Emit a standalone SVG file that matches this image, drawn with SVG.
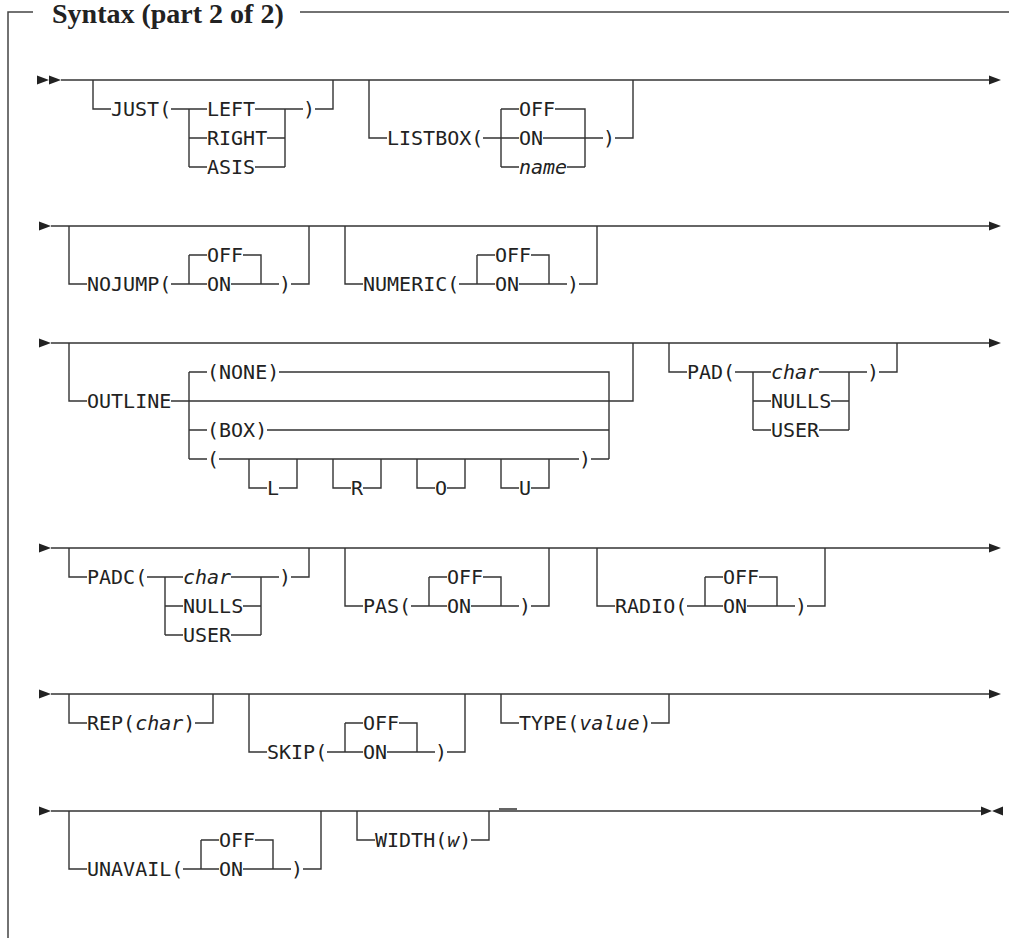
<svg xmlns="http://www.w3.org/2000/svg" width="1009" height="938" viewBox="0 0 1009 938">
<style>
.ln{fill:none;stroke:#333;stroke-width:1.4}
.fr{fill:none;stroke:#444;stroke-width:1.5}
.t{font-family:"DejaVu Sans Mono","Liberation Mono",monospace;font-size:20px;fill:#222}
.i{font-style:italic}
.ttl{font-family:"Liberation Serif","Times New Roman",serif;font-size:28px;font-weight:bold;fill:#222}
.ar{fill:#222}
</style>
<defs>
<path id="arr" d="M0,-4.5 L12,0 L0,4.5 Z"/>
</defs>
<rect width="1009" height="938" fill="#fff"/>
<g id="frame">
<path class="fr" d="M8,938 V12 H33 M300,12 H1009"/>
<text class="ttl" x="52" y="23">Syntax (part 2 of 2)</text>
</g>
<g id="connectors">
<use href="#arr" class="ar" x="37" y="80"/>
<use href="#arr" class="ar" x="49" y="80"/>
<path class="ln" d="M61,80 H990"/>
<use href="#arr" class="ar" x="989" y="80"/>
<use href="#arr" class="ar" x="39" y="226"/>
<path class="ln" d="M51,226 H990"/>
<use href="#arr" class="ar" x="989" y="226"/>
<use href="#arr" class="ar" x="39" y="343"/>
<path class="ln" d="M51,343 H990"/>
<use href="#arr" class="ar" x="989" y="343"/>
<use href="#arr" class="ar" x="39" y="548"/>
<path class="ln" d="M51,548 H990"/>
<use href="#arr" class="ar" x="989" y="548"/>
<use href="#arr" class="ar" x="39" y="694"/>
<path class="ln" d="M51,694 H990"/>
<use href="#arr" class="ar" x="989" y="694"/>
<use href="#arr" class="ar" x="39" y="811"/>
<path class="ln" d="M51,811 H982 M499,809 H517"/>
<path class="ar" d="M981,806.5 L992,811 L981,815.5 Z M1003,806.5 L992,811 L1003,815.5 Z"/>
</g>
<g id="just">
<path class="ln" d="M93,80 V109 H111 M171,109 H207 M189,109 V167 M189,138 H207 M189,167 H207 M255,109 H303 M267,138 H285 M255,167 H285 M285,109 V167 M315,109 H333 V80"/>
<text class="t" x="111" y="116">JUST(</text>
<text class="t" x="207" y="116">LEFT</text>
<text class="t" x="207" y="145">RIGHT</text>
<text class="t" x="207" y="174">ASIS</text>
<text class="t" x="303" y="116">)</text>
</g>
<g id="listbox">
<path class="ln" d="M369,80 V138 H387 M483,138 H519 M501,109 V167 M501,109 H519 M501,167 H519 M555,109 H585 V167 M543,138 H603 M567,167 H585 M615,138 H633 V80"/>
<text class="t" x="387" y="145">LISTBOX(</text>
<text class="t" x="519" y="116">OFF</text>
<text class="t" x="519" y="145">ON</text>
<text class="t i" x="519" y="174">name</text>
<text class="t" x="603" y="145">)</text>
</g>
<g id="nojump">
<path class="ln" d="M69,226 V284 H87 M171,284 H207 M189,255 V284 M189,255 H207 M243,255 H261 V284 M231,284 H279 M291,284 H309 V226"/>
<text class="t" x="87" y="291">NOJUMP(</text>
<text class="t" x="207" y="262">OFF</text>
<text class="t" x="207" y="291">ON</text>
<text class="t" x="279" y="291">)</text>
</g>
<g id="numeric">
<path class="ln" d="M345,226 V284 H363 M459,284 H495 M477,255 V284 M477,255 H495 M531,255 H549 V284 M519,284 H567 M579,284 H597 V226"/>
<text class="t" x="363" y="291">NUMERIC(</text>
<text class="t" x="495" y="262">OFF</text>
<text class="t" x="495" y="291">ON</text>
<text class="t" x="567" y="291">)</text>
</g>
<g id="outline">
<path class="ln" d="M69,343 V401 H87 M171,401 H633 V343 M189,372 V459 M189,372 H207 M189,430 H207 M189,459 H207 M279,372 H609 V459 M267,430 H609 M219,459 H579 M591,459 H609"/>
<path class="ln" d="M249,459 V488 H267 M279,488 H297 V459 M333,459 V488 H351 M363,488 H381 V459 M417,459 V488 H435 M447,488 H465 V459 M501,459 V488 H519 M531,488 H549 V459"/>
<text class="t" x="87" y="408">OUTLINE</text>
<text class="t" x="207" y="379">(NONE)</text>
<text class="t" x="207" y="437">(BOX)</text>
<text class="t" x="207" y="466">(</text>
<text class="t" x="579" y="466">)</text>
<text class="t" x="267" y="495">L</text>
<text class="t" x="351" y="495">R</text>
<text class="t" x="435" y="495">O</text>
<text class="t" x="519" y="495">U</text>
</g>
<g id="pad">
<path class="ln" d="M669,343 V372 H687 M735,372 H771 M753,372 V430 M753,401 H771 M753,430 H771 M819,372 H867 M831,401 H849 M819,430 H849 M849,372 V430 M879,372 H897 V343"/>
<text class="t" x="687" y="379">PAD(</text>
<text class="t i" x="771" y="379">char</text>
<text class="t" x="771" y="408">NULLS</text>
<text class="t" x="771" y="437">USER</text>
<text class="t" x="867" y="379">)</text>
</g>
<g id="padc">
<path class="ln" d="M69,548 V577 H87 M147,577 H183 M165,577 V635 M165,606 H183 M165,635 H183 M231,577 H279 M243,606 H261 M231,635 H261 M261,577 V635 M291,577 H309 V548"/>
<text class="t" x="87" y="584">PADC(</text>
<text class="t i" x="183" y="584">char</text>
<text class="t" x="183" y="613">NULLS</text>
<text class="t" x="183" y="642">USER</text>
<text class="t" x="279" y="584">)</text>
</g>
<g id="pas">
<path class="ln" d="M345,548 V606 H363 M411,606 H447 M429,577 V606 M429,577 H447 M483,577 H501 V606 M471,606 H519 M531,606 H549 V548"/>
<text class="t" x="363" y="613">PAS(</text>
<text class="t" x="447" y="584">OFF</text>
<text class="t" x="447" y="613">ON</text>
<text class="t" x="519" y="613">)</text>
</g>
<g id="radio">
<path class="ln" d="M597,548 V606 H615 M687,606 H723 M705,577 V606 M705,577 H723 M759,577 H777 V606 M747,606 H795 M807,606 H825 V548"/>
<text class="t" x="615" y="613">RADIO(</text>
<text class="t" x="723" y="584">OFF</text>
<text class="t" x="723" y="613">ON</text>
<text class="t" x="795" y="613">)</text>
</g>
<g id="rep">
<path class="ln" d="M69,694 V723 H87 M195,723 H213 V694"/>
<text class="t" x="87" y="730">REP(<tspan class="i">char</tspan>)</text>
</g>
<g id="skip">
<path class="ln" d="M249,694 V752 H267 M327,752 H363 M345,723 V752 M345,723 H363 M399,723 H417 V752 M387,752 H435 M447,752 H465 V694"/>
<text class="t" x="267" y="759">SKIP(</text>
<text class="t" x="363" y="730">OFF</text>
<text class="t" x="363" y="759">ON</text>
<text class="t" x="435" y="759">)</text>
</g>
<g id="type">
<path class="ln" d="M501,694 V723 H519 M651,723 H669 V694"/>
<text class="t" x="519" y="730">TYPE(<tspan class="i">value</tspan>)</text>
</g>
<g id="unavail">
<path class="ln" d="M69,811 V869 H87 M183,869 H219 M201,840 V869 M201,840 H219 M255,840 H273 V869 M243,869 H291 M303,869 H321 V811"/>
<text class="t" x="87" y="876">UNAVAIL(</text>
<text class="t" x="219" y="847">OFF</text>
<text class="t" x="219" y="876">ON</text>
<text class="t" x="291" y="876">)</text>
</g>
<g id="width">
<path class="ln" d="M357,811 V840 H375 M471,840 H489 V811"/>
<text class="t" x="375" y="847">WIDTH(<tspan class="i">w</tspan>)</text>
</g>
</svg>
